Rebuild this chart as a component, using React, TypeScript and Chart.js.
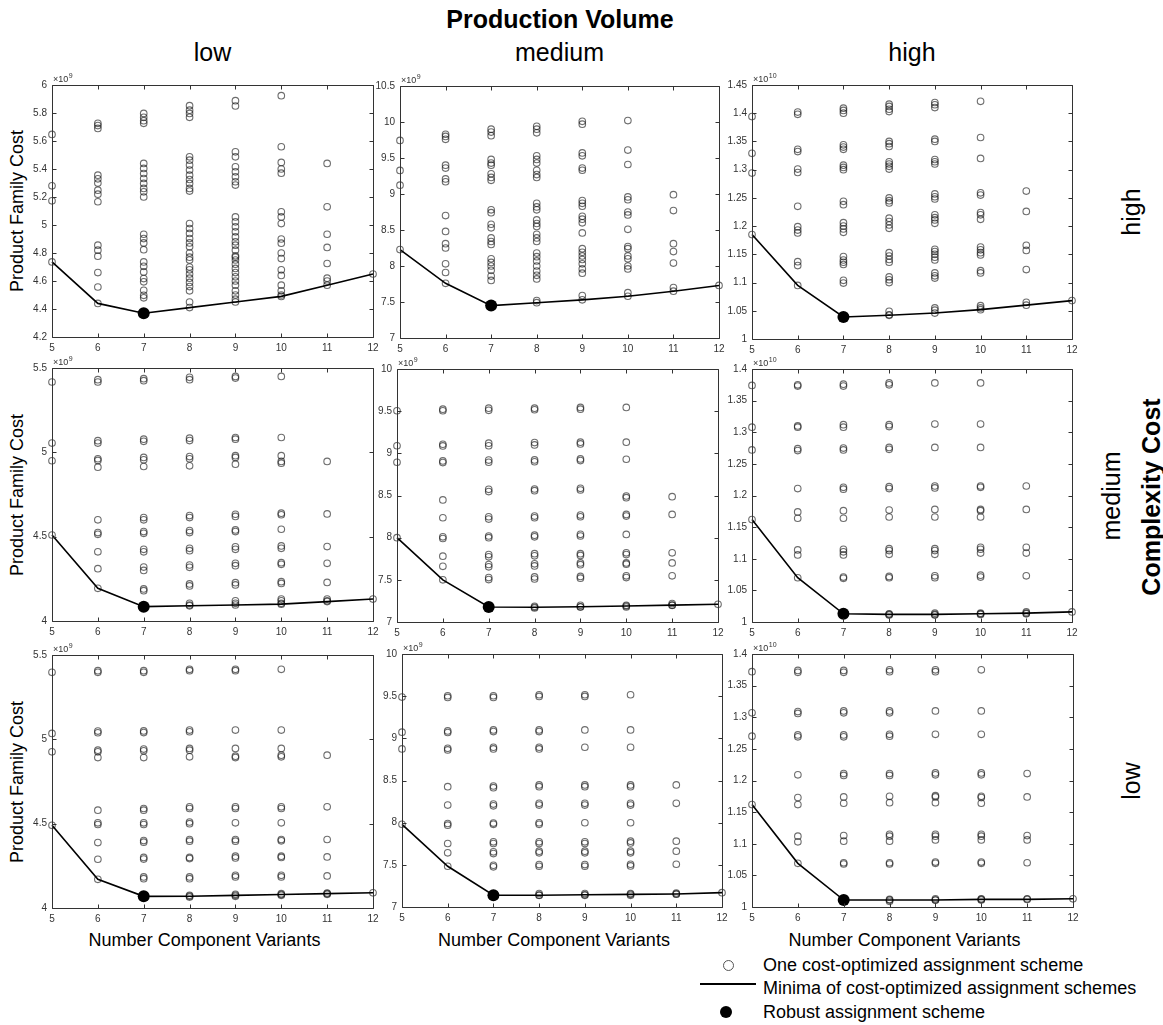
import React, { useEffect, useRef } from 'react';
import { Chart, registerables } from 'chart.js';

Chart.register(...registerables);

// ---------- categories / labels ----------
const componentVariants = [5, 6, 7, 8, 9, 10, 11, 12];
const volumeLevels = ['low', 'medium', 'high'];
const complexityLevels = ['high', 'medium', 'low'];
const robustVariantIndex = 2; // robust scheme at 7 component variants

// y axis ranges (values in units of 10^exponent)
const yAxisMin = [[4.2, 7, 1], [4, 7, 1], [4, 7, 1]];
const yAxisMax = [[6, 10.5, 1.45], [5.5, 10, 1.4], [5.5, 10, 1.4]];
const yAxisStep = [[0.2, 0.5, 0.05], [0.5, 0.5, 0.05], [0.5, 0.5, 0.05]];
const yAxisExponent = [9, 9, 10];

// ---------- Complexity cost HIGH ----------
const schemes_cHigh_vLow: number[][] = [
  [5.647, 5.28, 5.173],
  [5.726, 5.71, 5.69, 5.356, 5.33, 5.30, 5.249, 5.22, 5.166, 4.856, 4.82, 4.777, 4.66, 4.557],
  [5.797, 5.769, 5.745, 5.726, 5.44, 5.404, 5.368, 5.332, 5.297, 5.261, 5.237, 5.20, 4.934, 4.903, 4.872, 4.824, 4.736, 4.705, 4.665, 4.617, 4.594, 4.534, 4.498, 4.48],
  [5.852, 5.82, 5.797, 5.769, 5.487, 5.463, 5.428, 5.392, 5.356, 5.325, 5.297, 5.261, 5.242, 5.01, 4.975, 4.94, 4.903, 4.872, 4.844, 4.80, 4.77, 4.75, 4.70, 4.68, 4.65, 4.62, 4.59, 4.56, 4.53, 4.45],
  [5.888, 5.85, 5.523, 5.487, 5.416, 5.38, 5.344, 5.309, 5.285, 5.058, 5.023, 4.987, 4.951, 4.915, 4.88, 4.856, 4.82, 4.78, 4.77, 4.75, 4.72, 4.69, 4.66, 4.63, 4.60, 4.57, 4.53, 4.50, 4.47],
  [5.924, 5.559, 5.447, 5.40, 5.37, 5.094, 5.058, 5.01, 4.90, 4.87, 4.80, 4.76, 4.68, 4.64, 4.57, 4.53, 4.50],
  [5.44, 5.13, 4.934, 4.84, 4.725, 4.62, 4.60],
  [],
];
const minima_cHigh_vLow = [4.736, 4.44, 4.37, 4.41, 4.45, 4.49, 4.57, 4.65];

const schemes_cHigh_vMed: number[][] = [
  [9.744, 9.327, 9.123],
  [9.83, 9.80, 9.76, 9.40, 9.36, 9.21, 9.17, 8.70, 8.48, 8.31, 8.25, 8.03, 7.91],
  [9.90, 9.86, 9.81, 9.48, 9.43, 9.40, 9.28, 9.23, 9.19, 8.78, 8.74, 8.58, 8.53, 8.39, 8.34, 8.30, 8.10, 8.05, 8.00, 7.94, 7.86, 7.80],
  [9.94, 9.90, 9.85, 9.53, 9.48, 9.43, 9.33, 9.27, 9.23, 8.87, 8.82, 8.78, 8.64, 8.59, 8.55, 8.44, 8.39, 8.34, 8.18, 8.13, 8.07, 8.00, 7.93, 7.87, 7.82, 7.52],
  [10.01, 9.97, 9.57, 9.53, 9.36, 9.33, 8.91, 8.87, 8.83, 8.69, 8.65, 8.60, 8.46, 8.24, 8.19, 8.14, 8.09, 8.03, 7.96, 7.90, 7.59],
  [10.02, 9.61, 9.41, 8.96, 8.92, 8.75, 8.71, 8.51, 8.27, 8.24, 8.14, 8.10, 8.00, 7.96, 7.63],
  [8.99, 8.77, 8.31, 8.20, 8.04, 7.70],
  [],
];
const minima_cHigh_vMed = [8.228, 7.76, 7.45, 7.49, 7.53, 7.58, 7.65, 7.73];

const schemes_cHigh_vHigh: number[][] = [
  [1.394, 1.329, 1.294],
  [1.402, 1.398, 1.336, 1.332, 1.301, 1.295, 1.235, 1.199, 1.193, 1.188, 1.137, 1.130],
  [1.409, 1.405, 1.400, 1.344, 1.340, 1.336, 1.308, 1.304, 1.300, 1.244, 1.238, 1.206, 1.200, 1.195, 1.189, 1.146, 1.140, 1.136, 1.132, 1.104, 1.099],
  [1.416, 1.412, 1.407, 1.403, 1.350, 1.346, 1.341, 1.314, 1.310, 1.306, 1.301, 1.250, 1.245, 1.241, 1.214, 1.208, 1.202, 1.196, 1.153, 1.147, 1.141, 1.136, 1.110, 1.105, 1.100, 1.049, 1.043],
  [1.419, 1.415, 1.410, 1.354, 1.350, 1.318, 1.314, 1.310, 1.257, 1.252, 1.248, 1.220, 1.215, 1.211, 1.205, 1.159, 1.155, 1.150, 1.145, 1.140, 1.117, 1.112, 1.108, 1.055, 1.051],
  [1.421, 1.357, 1.320, 1.259, 1.255, 1.224, 1.220, 1.212, 1.163, 1.158, 1.153, 1.149, 1.121, 1.117, 1.059, 1.055],
  [1.262, 1.226, 1.166, 1.157, 1.123, 1.065],
  [],
];
const minima_cHigh_vHigh = [1.185, 1.095, 1.039, 1.042, 1.046, 1.052, 1.060, 1.068];

// ---------- Complexity cost MEDIUM ----------
const schemes_cMed_vLow: number[][] = [
  [5.417, 5.055, 4.950],
  [5.431, 5.417, 5.069, 5.055, 4.962, 4.952, 4.912, 4.60, 4.524, 4.514, 4.41, 4.31],
  [5.437, 5.425, 5.078, 5.065, 4.970, 4.956, 4.916, 4.613, 4.60, 4.530, 4.520, 4.425, 4.41, 4.32, 4.30, 4.19, 4.18],
  [5.445, 5.431, 5.084, 5.07, 4.975, 4.962, 4.92, 4.625, 4.613, 4.536, 4.524, 4.431, 4.417, 4.332, 4.318, 4.22, 4.208, 4.105, 4.095],
  [5.45, 5.44, 5.088, 5.078, 4.98, 4.97, 4.93, 4.633, 4.62, 4.54, 4.53, 4.44, 4.425, 4.342, 4.328, 4.227, 4.214, 4.12, 4.105],
  [5.45, 5.088, 4.98, 4.946, 4.936, 4.639, 4.63, 4.544, 4.445, 4.431, 4.346, 4.336, 4.233, 4.223, 4.13, 4.12, 4.105],
  [4.946, 4.635, 4.441, 4.342, 4.229, 4.13, 4.12],
  [],
];
const minima_cMed_vLow = [4.51, 4.194, 4.085, 4.09, 4.095, 4.10, 4.115, 4.13];

const schemes_cMed_vMed: number[][] = [
  [9.505, 9.09, 8.894],
  [9.524, 9.505, 9.108, 9.088, 8.91, 8.89, 8.447, 8.236, 8.01, 7.99, 7.78, 7.66],
  [9.536, 9.51, 9.12, 9.09, 8.92, 8.894, 8.573, 8.546, 8.248, 8.22, 8.02, 8.00, 7.80, 7.773, 7.682, 7.654, 7.527, 7.503],
  [9.536, 9.517, 9.128, 9.10, 8.922, 8.90, 8.577, 8.557, 8.256, 8.236, 8.03, 8.01, 7.81, 7.785, 7.69, 7.665, 7.535, 7.51, 7.186, 7.166],
  [9.544, 9.524, 9.132, 9.112, 8.934, 8.914, 8.585, 8.565, 8.268, 8.248, 8.04, 8.02, 7.81, 7.79, 7.70, 7.68, 7.54, 7.52, 7.198, 7.178],
  [9.544, 9.132, 8.93, 8.494, 8.474, 8.276, 8.256, 8.038, 7.82, 7.80, 7.70, 7.686, 7.547, 7.527, 7.198, 7.178],
  [8.486, 8.276, 7.82, 7.70, 7.547, 7.218, 7.198],
  [],
];
const minima_cMed_vMed = [8.0, 7.50, 7.178, 7.175, 7.18, 7.19, 7.20, 7.21];

const schemes_cMed_vHigh: number[][] = [
  [1.374, 1.308, 1.272],
  [1.375, 1.373, 1.310, 1.308, 1.274, 1.271, 1.211, 1.174, 1.164, 1.114, 1.106],
  [1.376, 1.373, 1.312, 1.308, 1.275, 1.272, 1.213, 1.210, 1.176, 1.164, 1.115, 1.111, 1.106, 1.071, 1.069],
  [1.378, 1.375, 1.312, 1.309, 1.276, 1.273, 1.214, 1.211, 1.177, 1.166, 1.116, 1.113, 1.107, 1.072, 1.070, 1.013, 1.011],
  [1.378, 1.313, 1.276, 1.215, 1.212, 1.178, 1.166, 1.116, 1.113, 1.107, 1.073, 1.070, 1.014, 1.011],
  [1.378, 1.313, 1.276, 1.215, 1.213, 1.178, 1.176, 1.166, 1.118, 1.115, 1.109, 1.074, 1.071, 1.014, 1.012],
  [1.215, 1.178, 1.118, 1.109, 1.073, 1.016, 1.013],
  [],
];
const minima_cMed_vHigh = [1.162, 1.070, 1.013, 1.012, 1.012, 1.013, 1.014, 1.016];

// ---------- Complexity cost LOW ----------
const schemes_cLow_vLow: number[][] = [
  [5.397, 5.035, 4.926],
  [5.407, 5.397, 5.049, 5.039, 4.936, 4.926, 4.892, 4.58, 4.505, 4.495, 4.388, 4.289],
  [5.407, 5.397, 5.05, 5.04, 4.942, 4.932, 4.892, 4.59, 4.58, 4.505, 4.495, 4.40, 4.39, 4.30, 4.29, 4.184, 4.174],
  [5.415, 5.407, 5.055, 5.045, 4.946, 4.936, 4.896, 4.60, 4.59, 4.51, 4.50, 4.406, 4.396, 4.30, 4.293, 4.184, 4.174, 4.075, 4.065],
  [5.415, 5.407, 5.055, 4.946, 4.90, 4.892, 4.60, 4.59, 4.505, 4.406, 4.396, 4.307, 4.297, 4.194, 4.184, 4.081, 4.069],
  [5.415, 5.055, 4.946, 4.906, 4.896, 4.60, 4.59, 4.505, 4.406, 4.398, 4.307, 4.30, 4.194, 4.184, 4.085, 4.075],
  [4.906, 4.60, 4.406, 4.303, 4.19, 4.089, 4.081],
  [],
];
const minima_cLow_vLow = [4.49, 4.17, 4.069, 4.07, 4.075, 4.08, 4.085, 4.09];

const schemes_cLow_vMed: number[][] = [
  [9.489, 9.073, 8.875],
  [9.505, 9.485, 9.088, 9.069, 8.882, 8.863, 8.427, 8.209, 7.99, 7.97, 7.753, 7.642],
  [9.505, 9.485, 9.10, 9.08, 8.894, 8.875, 8.435, 8.415, 8.22, 8.20, 7.995, 7.98, 7.773, 7.753, 7.654, 7.634, 7.495, 7.476],
  [9.517, 9.497, 9.10, 9.08, 8.894, 8.875, 8.447, 8.427, 8.229, 8.209, 7.999, 7.98, 7.773, 7.753, 7.662, 7.642, 7.503, 7.483, 7.159, 7.139],
  [9.517, 9.497, 9.10, 8.894, 8.447, 8.427, 8.229, 8.209, 7.999, 7.773, 7.753, 7.662, 7.642, 7.503, 7.483, 7.159, 7.139],
  [9.517, 9.10, 8.894, 8.447, 8.427, 8.229, 8.209, 7.999, 7.78, 7.76, 7.662, 7.642, 7.507, 7.487, 7.159, 7.139],
  [8.447, 8.229, 7.78, 7.662, 7.507, 7.166, 7.151],
  [],
];
const minima_cLow_vMed = [7.98, 7.483, 7.139, 7.14, 7.145, 7.15, 7.155, 7.17];

const schemes_cLow_vHigh: number[][] = [
  [1.372, 1.307, 1.270],
  [1.374, 1.371, 1.309, 1.306, 1.272, 1.269, 1.209, 1.173, 1.162, 1.112, 1.103],
  [1.374, 1.371, 1.310, 1.307, 1.272, 1.269, 1.211, 1.208, 1.174, 1.164, 1.113, 1.104, 1.070, 1.068],
  [1.375, 1.372, 1.310, 1.307, 1.273, 1.270, 1.211, 1.208, 1.175, 1.165, 1.115, 1.112, 1.104, 1.070, 1.068, 1.012, 1.009],
  [1.375, 1.372, 1.310, 1.273, 1.212, 1.209, 1.176, 1.174, 1.165, 1.115, 1.112, 1.106, 1.071, 1.069, 1.013, 1.011],
  [1.375, 1.310, 1.273, 1.212, 1.209, 1.175, 1.173, 1.164, 1.115, 1.112, 1.106, 1.071, 1.069, 1.013, 1.011],
  [1.211, 1.174, 1.113, 1.106, 1.070, 1.013],
  [],
];
const minima_cLow_vHigh = [1.162, 1.069, 1.011, 1.011, 1.011, 1.012, 1.012, 1.013];

const panelSchemes = [
  [schemes_cHigh_vLow, schemes_cHigh_vMed, schemes_cHigh_vHigh],
  [schemes_cMed_vLow, schemes_cMed_vMed, schemes_cMed_vHigh],
  [schemes_cLow_vLow, schemes_cLow_vMed, schemes_cLow_vHigh],
];
const panelMinima = [
  [minima_cHigh_vLow, minima_cHigh_vMed, minima_cHigh_vHigh],
  [minima_cMed_vLow, minima_cMed_vMed, minima_cMed_vHigh],
  [minima_cLow_vLow, minima_cLow_vMed, minima_cLow_vHigh],
];

// ---------- layout (plot areas in page pixels) ----------
type Rect = { l: number; t: number; r: number; b: number };
const plotRects: Rect[][] = [
  [
    { l: 52, t: 85, r: 373, b: 337 },
    { l: 400, t: 86, r: 719, b: 338 },
    { l: 752, t: 85, r: 1072, b: 339 },
  ],
  [
    { l: 52, t: 368, r: 373, b: 621 },
    { l: 397, t: 369, r: 718, b: 622 },
    { l: 752, t: 369, r: 1072, b: 622 },
  ],
  [
    { l: 52, t: 655, r: 373, b: 908 },
    { l: 402, t: 654, r: 722, b: 907 },
    { l: 752, t: 654, r: 1073, b: 907 },
  ],
];

const FONT = '"Liberation Sans", Arial, Helvetica, sans-serif';
const AXIS_COLOR = '#333333';
const TICK_COLOR = '#333333';
const PAD_L = 40;
const PAD_T = 16;
const PAD_R = 14;
const PAD_B = 22;

function formatTick(v: number): string {
  return String(parseFloat(Number(v).toFixed(2)));
}

const matlabBoxPlugin = {
  id: 'matlabBox',
  afterDraw(chart: any, _args: any, opts: any) {
    const { ctx, chartArea, scales } = chart;
    const { left, right, top, bottom } = chartArea;
    const xs = scales.x;
    const ys = scales.y;
    ctx.save();
    ctx.strokeStyle = AXIS_COLOR;
    ctx.lineWidth = 1;
    const L = Math.round(left) + 0.5;
    const R = Math.round(right) + 0.5;
    const T = Math.round(top) + 0.5;
    const B = Math.round(bottom) + 0.5;
    ctx.beginPath();
    ctx.rect(L, T, R - L, B - T);
    const tl = 4;
    xs.ticks.forEach((t: any) => {
      const px = Math.round(xs.getPixelForValue(t.value)) + 0.5;
      ctx.moveTo(px, B);
      ctx.lineTo(px, B - tl);
      ctx.moveTo(px, T);
      ctx.lineTo(px, T + tl);
    });
    ys.ticks.forEach((t: any) => {
      const py = Math.round(ys.getPixelForValue(t.value)) + 0.5;
      ctx.moveTo(L, py);
      ctx.lineTo(L + tl, py);
      ctx.moveTo(R, py);
      ctx.lineTo(R - tl, py);
    });
    ctx.stroke();
    // exponent label
    const exp = String(opts.exponent);
    ctx.fillStyle = TICK_COLOR;
    ctx.textBaseline = 'alphabetic';
    ctx.textAlign = 'left';
    ctx.font = `9px ${FONT}`;
    const base = '\u00d710';
    ctx.fillText(base, left + 1, top - 3);
    const w = ctx.measureText(base).width;
    ctx.font = `7px ${FONT}`;
    ctx.fillText(exp, left + 1 + w + 0.5, top - 7);
    ctx.restore();
  },
};

function Panel({ row, col }: { row: number; col: number }) {
  const ref = useRef<HTMLCanvasElement>(null);
  const rect = plotRects[row][col];
  const width = rect.r - rect.l + PAD_L + PAD_R;
  const height = rect.b - rect.t + PAD_T + PAD_B;

  useEffect(() => {
    const schemes = panelSchemes[row][col];
    const minima = panelMinima[row][col];
    const schemePoints = componentVariants.flatMap((x, i) =>
      [...schemes[i], minima[i]].map((y) => ({ x, y }))
    );
    const minimaLine = componentVariants.map((x, i) => ({ x, y: minima[i] }));
    const robust = [{ x: componentVariants[robustVariantIndex], y: minima[robustVariantIndex] }];
    const tickFont = { family: FONT, size: 10 };

    const chart = new Chart(ref.current as HTMLCanvasElement, {
      type: 'scatter',
      data: {
        datasets: [
          {
            label: 'Robust assignment scheme',
            data: robust,
            pointRadius: 6,
            pointBackgroundColor: '#000000',
            pointBorderColor: '#000000',
            pointBorderWidth: 0,
            showLine: false,
            clip: false,
          },
          {
            label: 'Minima of cost-optimized assignment schemes',
            data: minimaLine,
            showLine: true,
            borderColor: '#000000',
            borderWidth: 1.6,
            pointRadius: 0,
            tension: 0,
            clip: false,
          },
          {
            label: 'One cost-optimized assignment scheme',
            data: schemePoints,
            pointRadius: 3.3,
            pointBorderWidth: 1.1,
            pointBorderColor: 'rgba(20,20,20,0.62)',
            pointBackgroundColor: 'rgba(0,0,0,0)',
            showLine: false,
            clip: false,
          },
        ],
      } as any,
      options: {
        responsive: false,
        animation: false,
        events: [],
        layout: { padding: { left: 0, top: PAD_T, right: PAD_R, bottom: 0 } },
        plugins: {
          legend: { display: false },
          tooltip: { enabled: false },
          matlabBox: { exponent: yAxisExponent[col] },
        } as any,
        scales: {
          x: {
            type: 'linear',
            min: componentVariants[0],
            max: componentVariants[componentVariants.length - 1],
            grid: { display: false, drawTicks: false, tickLength: 0 },
            border: { display: false },
            ticks: {
              stepSize: 1,
              font: tickFont,
              color: TICK_COLOR,
              padding: 5,
              autoSkip: false,
              maxRotation: 0,
            },
            afterFit: (s: any) => {
              s.height = PAD_B;
            },
          },
          y: {
            type: 'linear',
            min: yAxisMin[row][col],
            max: yAxisMax[row][col],
            grid: { display: false, drawTicks: false, tickLength: 0 },
            border: { display: false },
            ticks: {
              stepSize: yAxisStep[row][col],
              font: tickFont,
              color: TICK_COLOR,
              padding: 5,
              autoSkip: false,
              callback: (v: any) => formatTick(v),
            },
            afterFit: (s: any) => {
              s.width = PAD_L;
            },
          },
        },
      } as any,
      plugins: [matlabBoxPlugin as any],
    });
    return () => chart.destroy();
  }, [row, col]);

  return (
    <div
      style={{
        position: 'absolute',
        left: rect.l - PAD_L,
        top: rect.t - PAD_T,
        width,
        height,
      }}
    >
      <canvas ref={ref} width={width} height={height} style={{ width, height, display: 'block' }} />
    </div>
  );
}

function Label({
  text,
  x,
  y,
  size,
  bold,
  rotate,
}: {
  text: string;
  x: number;
  y: number;
  size: number;
  bold?: boolean;
  rotate?: boolean;
}) {
  return (
    <div
      style={{
        position: 'absolute',
        left: x,
        top: y,
        transform: `translate(-50%, -50%)${rotate ? ' rotate(-90deg)' : ''}`,
        whiteSpace: 'nowrap',
        fontFamily: FONT,
        fontSize: size,
        fontWeight: bold ? 700 : 400,
        color: '#000',
        lineHeight: 1,
      }}
    >
      {text}
    </div>
  );
}

export default function App() {
  const rows = [0, 1, 2];
  const cols = [0, 1, 2];
  const rightLabelX = [1131, 1111, 1131];
  return (
    <div
      style={{
        position: 'absolute',
        left: 0,
        top: 0,
        width: 1163,
        height: 1025,
        background: '#ffffff',
        overflow: 'hidden',
      }}
    >
      <Label text="Production Volume" x={560} y={19} size={25} bold />
      {cols.map((c) => (
        <Label
          key={'vol' + c}
          text={volumeLevels[c]}
          x={(plotRects[0][c].l + plotRects[0][c].r) / 2}
          y={52}
          size={25}
        />
      ))}
      {rows.map((r) => (
        <Label
          key={'cc' + r}
          text={complexityLevels[r]}
          x={rightLabelX[r]}
          y={(plotRects[r][2].t + plotRects[r][2].b) / 2}
          size={25}
          rotate
        />
      ))}
      <Label text="Complexity Cost" x={1151} y={497} size={25} bold rotate />
      {rows.map((r) => (
        <Label
          key={'yl' + r}
          text="Product Family Cost"
          x={17}
          y={(plotRects[r][0].t + plotRects[r][0].b) / 2}
          size={18}
          rotate
        />
      ))}
      {cols.map((c) => (
        <Label
          key={'xl' + c}
          text="Number Component Variants"
          x={(plotRects[2][c].l + plotRects[2][c].r) / 2 - 8}
          y={940}
          size={18}
        />
      ))}
      {rows.map((r) => cols.map((c) => <Panel key={`p${r}${c}`} row={r} col={c} />))}

      {/* legend */}
      <div
        style={{
          position: 'absolute',
          left: 723,
          top: 960,
          width: 11,
          height: 11,
          borderRadius: '50%',
          border: '1px solid #555',
          boxSizing: 'border-box',
        }}
      />
      <div style={{ position: 'absolute', left: 700, top: 983, width: 56, height: 2, background: '#000' }} />
      <div
        style={{
          position: 'absolute',
          left: 720,
          top: 1006,
          width: 12,
          height: 12,
          borderRadius: '50%',
          background: '#000',
        }}
      />
      {[
        ['One cost-optimized assignment scheme', 965],
        ['Minima of cost-optimized assignment schemes', 988],
        ['Robust assignment scheme', 1012],
      ].map(([t, y]) => (
        <div
          key={t as string}
          style={{
            position: 'absolute',
            left: 763,
            top: (y as number) - 9,
            fontFamily: FONT,
            fontSize: 18,
            lineHeight: '18px',
            whiteSpace: 'nowrap',
            color: '#000',
          }}
        >
          {t}
        </div>
      ))}
    </div>
  );
}
